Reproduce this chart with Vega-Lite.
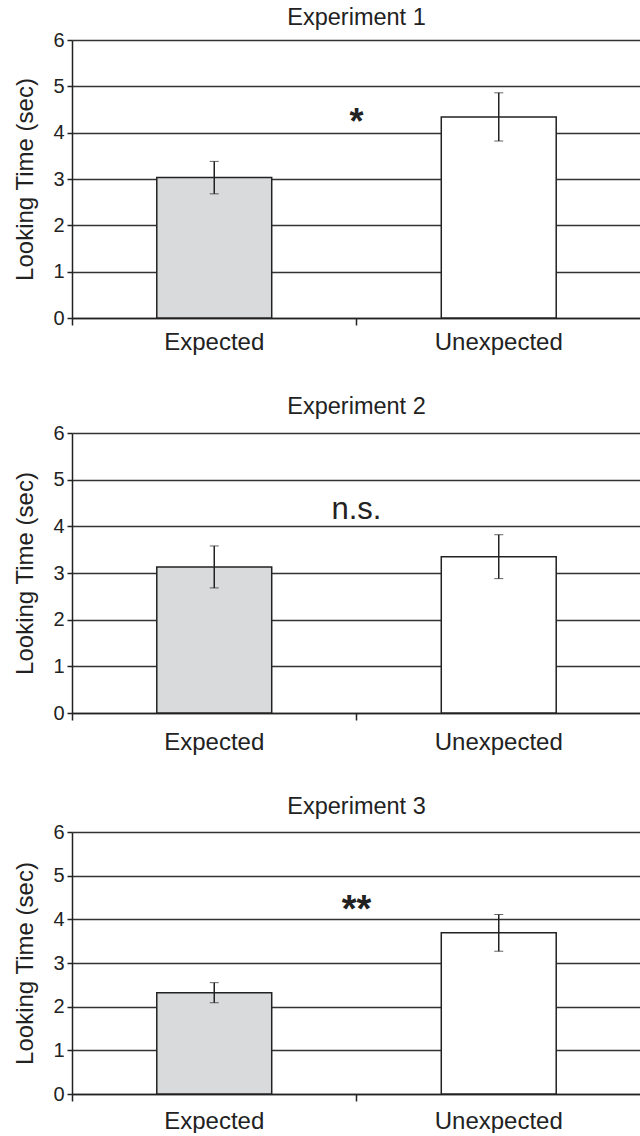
{
  "$schema": "https://vega.github.io/schema/vega-lite/v6.json",
  "background": "white",
  "padding": {"left": 13, "top": 5, "right": 0, "bottom": 0},
  "spacing": 40,
  "config": {
    "font": "Liberation Sans",
    "view": {"stroke": null},
    "title": {"fontSize": 23.5, "fontWeight": "normal", "color": "#222", "baseline": "alphabetic", "font": "Liberation Sans"},
    "axisY": {"values": [0, 1, 2, 3, 4, 5, 6], "grid": true, "gridColor": "#333", "gridWidth": 1.5, "gridOpacity": 1, "domainColor": "#222", "domainWidth": 1.5, "tickColor": "#222", "tickWidth": 1.5, "tickSize": 5, "labelFontSize": 20, "labelColor": "#222", "labelPadding": 3, "titleFontSize": 24, "titleFontWeight": "normal", "titleColor": "#222", "titlePadding": 15}
  },
  "datasets": {
    "bars": [
      {"experiment": 1, "condition": "Expected", "mean": 3.03, "err": 0.35},
      {"experiment": 1, "condition": "Unexpected", "mean": 4.34, "err": 0.52},
      {"experiment": 2, "condition": "Expected", "mean": 3.13, "err": 0.45},
      {"experiment": 2, "condition": "Unexpected", "mean": 3.35, "err": 0.47},
      {"experiment": 3, "condition": "Expected", "mean": 2.32, "err": 0.23},
      {"experiment": 3, "condition": "Unexpected", "mean": 3.69, "err": 0.42}
    ],
    "notes": [
      {"experiment": 1, "label": "*"},
      {"experiment": 2, "label": "n.s."},
      {"experiment": 3, "label": "**"}
    ]
  },
  "vconcat": [
    {
      "title": {"text": "Experiment 1", "offset": 1},
      "width": 569,
      "height": 278,
      "resolve": {"axis": {"x": "independent"}},
      "layer": [
        {
          "data": {"name": "bars"},
          "transform": [{"filter": "datum.experiment === 1"}],
          "mark": {"type": "bar", "width": {"band": 0.404}, "stroke": "#222", "strokeWidth": 1.5},
          "encoding": {
            "x": {"field": "condition", "type": "nominal", "scale": {"paddingInner": 0, "paddingOuter": 0},
              "axis": {"orient": "bottom", "title": null, "labelAngle": 0, "labelFontSize": 24, "labelColor": "#222", "ticks": false, "tickSize": 0, "domain": true, "domainColor": "#222", "domainWidth": 1.5, "labelPadding": 31, "labelBaseline": "alphabetic", "grid": false}},
            "y": {"field": "mean", "type": "quantitative", "title": "Looking Time (sec)", "scale": {"domain": [0, 6], "nice": false}},
            "fill": {"field": "condition", "type": "nominal", "scale": {"domain": ["Expected", "Unexpected"], "range": ["#d9dadb", "#ffffff"]}, "legend": null}
          }
        },
        {
          "data": {"name": "bars"},
          "transform": [{"filter": "datum.experiment === 1"}],
          "mark": {"type": "errorbar", "ticks": {"size": 9, "color": "#222", "strokeWidth": 1.5}, "rule": {"color": "#222", "strokeWidth": 1.5}},
          "encoding": {
            "x": {"field": "condition", "type": "nominal",
              "axis": {"orient": "bottom", "title": null, "labels": false, "domain": false, "ticks": true, "tickSize": 7, "tickColor": "#222", "tickWidth": 1.5, "bandPosition": 0, "grid": false}},
            "y": {"field": "mean", "type": "quantitative", "title": "Looking Time (sec)"},
            "yError": {"field": "err"}
          }
        },
        {
          "data": {"name": "notes"},
          "transform": [{"filter": "datum.experiment === 1"}],
          "mark": {"type": "text", "fontSize": 36, "fontWeight": "bold", "color": "#222", "baseline": "middle", "align": "center", "dy": 7},
          "encoding": {
            "x": {"datum": "Unexpected", "type": "nominal", "bandPosition": 0, "axis": null},
            "y": {"datum": 4.36, "type": "quantitative", "title": "Looking Time (sec)"},
            "text": {"field": "label"}
          }
        }
      ]
    },
    {
      "title": {"text": "Experiment 2", "offset": 5},
      "width": 569,
      "height": 280,
      "resolve": {"axis": {"x": "independent"}},
      "layer": [
        {
          "data": {"name": "bars"},
          "transform": [{"filter": "datum.experiment === 2"}],
          "mark": {"type": "bar", "width": {"band": 0.404}, "stroke": "#222", "strokeWidth": 1.5},
          "encoding": {
            "x": {"field": "condition", "type": "nominal", "scale": {"paddingInner": 0, "paddingOuter": 0},
              "axis": {"orient": "bottom", "title": null, "labelAngle": 0, "labelFontSize": 24, "labelColor": "#222", "ticks": false, "tickSize": 0, "domain": true, "domainColor": "#222", "domainWidth": 1.5, "labelPadding": 36, "labelBaseline": "alphabetic", "grid": false}},
            "y": {"field": "mean", "type": "quantitative", "title": "Looking Time (sec)", "scale": {"domain": [0, 6], "nice": false}},
            "fill": {"field": "condition", "type": "nominal", "scale": {"domain": ["Expected", "Unexpected"], "range": ["#d9dadb", "#ffffff"]}, "legend": null}
          }
        },
        {
          "data": {"name": "bars"},
          "transform": [{"filter": "datum.experiment === 2"}],
          "mark": {"type": "errorbar", "ticks": {"size": 9, "color": "#222", "strokeWidth": 1.5}, "rule": {"color": "#222", "strokeWidth": 1.5}},
          "encoding": {
            "x": {"field": "condition", "type": "nominal",
              "axis": {"orient": "bottom", "title": null, "labels": false, "domain": false, "ticks": true, "tickSize": 7, "tickColor": "#222", "tickWidth": 1.5, "bandPosition": 0, "grid": false}},
            "y": {"field": "mean", "type": "quantitative", "title": "Looking Time (sec)"},
            "yError": {"field": "err"}
          }
        },
        {
          "data": {"name": "notes"},
          "transform": [{"filter": "datum.experiment === 2"}],
          "mark": {"type": "text", "fontSize": 31, "fontWeight": "normal", "color": "#222", "baseline": "middle", "align": "center"},
          "encoding": {
            "x": {"datum": "Unexpected", "type": "nominal", "bandPosition": 0, "axis": null},
            "y": {"datum": 4.36, "type": "quantitative", "title": "Looking Time (sec)"},
            "text": {"field": "label"}
          }
        }
      ]
    },
    {
      "title": {"text": "Experiment 3", "offset": 4},
      "width": 569,
      "height": 262,
      "resolve": {"axis": {"x": "independent"}},
      "layer": [
        {
          "data": {"name": "bars"},
          "transform": [{"filter": "datum.experiment === 3"}],
          "mark": {"type": "bar", "width": {"band": 0.404}, "stroke": "#222", "strokeWidth": 1.5},
          "encoding": {
            "x": {"field": "condition", "type": "nominal", "scale": {"paddingInner": 0, "paddingOuter": 0},
              "axis": {"orient": "bottom", "title": null, "labelAngle": 0, "labelFontSize": 24, "labelColor": "#222", "ticks": false, "tickSize": 0, "domain": true, "domainColor": "#222", "domainWidth": 1.5, "labelPadding": 34, "labelBaseline": "alphabetic", "grid": false}},
            "y": {"field": "mean", "type": "quantitative", "title": "Looking Time (sec)", "scale": {"domain": [0, 6], "nice": false}},
            "fill": {"field": "condition", "type": "nominal", "scale": {"domain": ["Expected", "Unexpected"], "range": ["#d9dadb", "#ffffff"]}, "legend": null}
          }
        },
        {
          "data": {"name": "bars"},
          "transform": [{"filter": "datum.experiment === 3"}],
          "mark": {"type": "errorbar", "ticks": {"size": 9, "color": "#222", "strokeWidth": 1.5}, "rule": {"color": "#222", "strokeWidth": 1.5}},
          "encoding": {
            "x": {"field": "condition", "type": "nominal",
              "axis": {"orient": "bottom", "title": null, "labels": false, "domain": false, "ticks": true, "tickSize": 7, "tickColor": "#222", "tickWidth": 1.5, "bandPosition": 0, "grid": false}},
            "y": {"field": "mean", "type": "quantitative", "title": "Looking Time (sec)"},
            "yError": {"field": "err"}
          }
        },
        {
          "data": {"name": "notes"},
          "transform": [{"filter": "datum.experiment === 3"}],
          "mark": {"type": "text", "fontSize": 38, "fontWeight": "bold", "color": "#222", "baseline": "middle", "align": "center", "dy": 7},
          "encoding": {
            "x": {"datum": "Unexpected", "type": "nominal", "bandPosition": 0, "axis": null},
            "y": {"datum": 4.34, "type": "quantitative", "title": "Looking Time (sec)"},
            "text": {"field": "label"}
          }
        }
      ]
    }
  ]
}
